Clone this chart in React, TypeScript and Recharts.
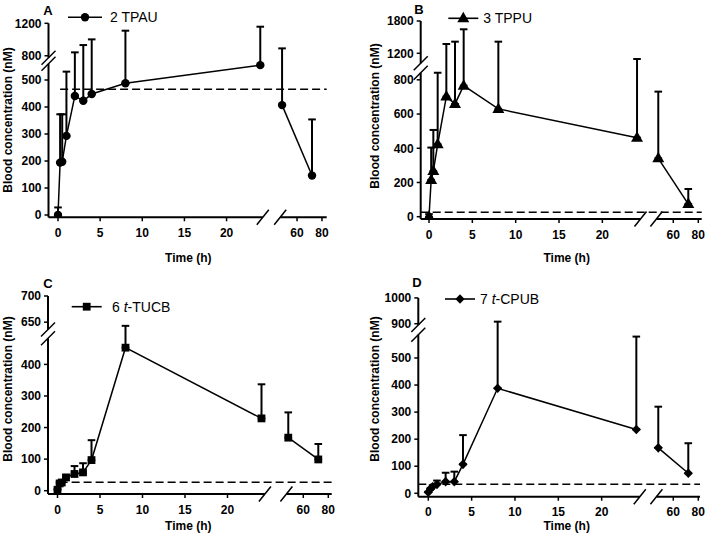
import React from 'react';
import { LineChart, Line, XAxis, YAxis, ErrorBar, ReferenceLine, Legend } from 'recharts';

const FONT = '"Liberation Sans", Arial, Helvetica, sans-serif';

// sampling times (h)
const times = [0, 0.25, 0.5, 1, 2, 3, 4, 8, 24, 48, 72];
const xTicks = [0, 5, 10, 15, 20, 60, 80];

// mean and mean + SD (nM)
const tpauMean = [0, 194, 197, 293, 441, 423, 448, 488, 555, 407, 146];
const tpauUpper = [28, 373, 373, 531, 842, 932, 1002, 1109, 1158, 891, 354];
const tppuMean = [0, 215, 267, 423, 702, 659, 766, 630, 462, 341, 74];
const tppuUpper = [15, 404, 507, 842, 1373, 1416, 1646, 1416, 1094, 731, 162];
const tucbMean = [3, 23, 26, 42, 53, 58, 97, 453, 229, 168, 99];
const tucbUpper = [5, 28, 32, 50, 78, 87, 160, 643, 337, 248, 148];
const cpubMean = [4, 16, 24, 33, 43, 43, 107, 388, 236, 168, 74];
const cpubUpper = [6, 20, 30, 47, 76, 80, 215, 908, 579, 320, 185];

// dashed reference levels (nM)
const thresholds = [466, 26, 27, 33];

const yTicksA = [0, 100, 200, 300, 400, 500, 800, 1200];
const yTicksB = [0, 200, 400, 600, 800, 1200, 1800];
const yTicksC = [0, 100, 200, 300, 400, 650, 700];
const yTicksD = [0, 100, 200, 300, 400, 500, 900, 1000];

type Node = [number, number];
type MarkerKind = 'circle' | 'triangle' | 'square' | 'diamond';

// piecewise linear map used for the broken axes
function piecewise(nodes: Node[]) {
  return (v: number) => {
    let i = 1;
    while (i < nodes.length - 1 && v > nodes[i][0]) i++;
    const [a, pa] = nodes[i - 1];
    const [b, pb] = nodes[i];
    return pa + ((v - a) * (pb - pa)) / (b - a);
  };
}

function Marker({ kind, cx, cy }: { kind: MarkerKind; cx: number; cy: number }) {
  if (kind === 'circle') return <circle cx={cx} cy={cy} r={4.2} fill="#000" />;
  if (kind === 'square') return <rect x={cx - 3.9} y={cy - 3.9} width={7.8} height={7.8} fill="#000" />;
  if (kind === 'triangle')
    return <polygon points={`${cx},${cy - 6.5} ${cx - 6},${cy + 4} ${cx + 6},${cy + 4}`} fill="#000" />;
  return <polygon points={`${cx},${cy - 4.8} ${cx + 4.6},${cy} ${cx},${cy + 4.8} ${cx - 4.6},${cy}`} fill="#000" />;
}

const makeDot = (kind: MarkerKind) => (props: any) => {
  const { cx, cy, index } = props;
  if (cx == null || cy == null) return <g key={index} />;
  return <Marker key={index} kind={kind} cx={cx} cy={cy} />;
};

interface PanelCfg {
  letter: string;
  name: React.ReactNode;
  marker: MarkerKind;
  mean: number[];
  upper: number[];
  threshold: number;
  yTicks: number[];
  box: { left: number; top: number; width: number; height: number };
  plot: { left: number; top: number; right: number; bottom: number };
  zero: { x: number; y: number };
  xNodes: Node[];
  yNodes: Node[];
  xBreak: [number, number];
  yBreak: [number, number];
  dashFrom?: number;
  letterPos: { x: number; y: number };
  legend: { x1: number; x2: number; y: number; textX: number };
  yTitle: { x: number; y: number };
  xTitle: { x: number; y: number };
}

const panels: PanelCfg[] = [
  {
    letter: 'A', name: '2 TPAU', marker: 'circle', mean: tpauMean, upper: tpauUpper,
    threshold: thresholds[0], yTicks: yTicksA,
    box: { left: 0, top: 0, width: 354, height: 270 },
    plot: { left: 48.5, top: 23.3, right: 326.7, bottom: 217.3 },
    zero: { x: 58, y: 215 },
    xNodes: [[0, 0], [24.3, 204.8], [46.5, 222.2], [80, 264]],
    yNodes: [[0, 0], [560, 151.2], [775, 157.2], [1200, 191.7]],
    xBreak: [24.3, 46.5], yBreak: [560, 775], dashFrom: 0.25,
    letterPos: { x: 48, y: 10 }, legend: { x1: 68, x2: 102, y: 17.3, textX: 110 },
    yTitle: { x: 8.3, y: 120 }, xTitle: { x: 188.3, y: 258.3 },
  },
  {
    letter: 'B', name: '3 TPPU', marker: 'triangle', mean: tppuMean, upper: tppuUpper,
    threshold: thresholds[1], yTicks: yTicksB,
    box: { left: 354, top: 0, width: 355, height: 270 },
    plot: { left: 420.7, top: 21, right: 701.7, bottom: 219 },
    zero: { x: 429, y: 216.7 },
    xNodes: [[0, 0], [24.4, 211.5], [46.5, 227.4], [80, 269.3]],
    yNodes: [[0, 0], [841, 143.9], [1014, 153.4], [1800, 195.7]],
    xBreak: [24.4, 46.5], yBreak: [841, 1014],
    letterPos: { x: 419, y: 9.5 }, legend: { x1: 448.3, x2: 478.3, y: 18.3, textX: 483.3 },
    yTitle: { x: 375, y: 116 }, xTitle: { x: 566.7, y: 258.3 },
  },
  {
    letter: 'C', name: <>6 <tspan fontStyle="italic">t</tspan>-TUCB</>, marker: 'square',
    mean: tucbMean, upper: tucbUpper, threshold: thresholds[2], yTicks: yTicksC,
    box: { left: 0, top: 270, width: 354, height: 269 },
    plot: { left: 48, top: 296, right: 331.7, bottom: 494 },
    zero: { x: 57.5, y: 490.7 },
    xNodes: [[0, 0], [24.4, 207.4], [46.5, 228.9], [80, 270.8]],
    yNodes: [[0, 0], [483, 152.5], [636, 161.2], [700, 194.7]],
    xBreak: [24.4, 46.5], yBreak: [483, 636], dashFrom: 0.25,
    letterPos: { x: 48, y: 283 }, legend: { x1: 71.7, x2: 101.7, y: 306.7, textX: 112 },
    yTitle: { x: 8.3, y: 389 }, xTitle: { x: 188.3, y: 526 },
  },
  {
    letter: 'D', name: <>7 <tspan fontStyle="italic">t</tspan>-CPUB</>, marker: 'diamond',
    mean: cpubMean, upper: cpubUpper, threshold: thresholds[3], yTicks: yTicksD,
    box: { left: 354, top: 270, width: 355, height: 269 },
    plot: { left: 418.3, top: 298, right: 700, bottom: 496.7 },
    zero: { x: 428.3, y: 493.3 },
    xNodes: [[0, 0], [24.4, 211.5], [46.5, 228.1], [80, 270]],
    yNodes: [[0, 0], [586, 158.6], [895, 168.3], [1000, 195.4]],
    xBreak: [24.4, 46.5], yBreak: [586, 895],
    letterPos: { x: 417, y: 282.7 }, legend: { x1: 445, x2: 475, y: 299, textX: 480 },
    yTitle: { x: 375, y: 389 }, xTitle: { x: 566.7, y: 526 },
  },
];

const tickStyle = { fontFamily: FONT, fontSize: 12, fontWeight: 700, fill: '#000' };

function Panel({ p }: { p: PanelCfg }) {
  const fx = piecewise(p.xNodes);
  const fy = piecewise(p.yNodes);
  const bx = p.box.left;
  const by = p.box.top;
  const xDom: [number, number] = [p.plot.left - p.zero.x, p.plot.right - p.zero.x];
  const yDom: [number, number] = [p.zero.y - p.plot.bottom, p.zero.y - p.plot.top];

  const rows = times.map((t, i) => ({
    x: fx(t),
    y: fy(p.mean[i]),
    err: [0, fy(p.upper[i]) - fy(p.mean[i])],
  }));
  const early = rows.filter((_, i) => times[i] <= 24);
  const late = rows.filter((_, i) => times[i] >= 48);

  const xLabel = (v: number) => {
    const t = xTicks.find((k) => Math.abs(fx(k) - v) < 0.01);
    return t == null ? '' : String(t);
  };
  const yLabel = (v: number) => {
    const t = p.yTicks.find((k) => Math.abs(fy(k) - v) < 0.01);
    return t == null ? '' : String(t);
  };

  const ax = xDom[0];
  const ay = yDom[0];
  const axisSegs = [
    [{ x: ax, y: ay }, { x: ax, y: fy(p.yBreak[0]) }],
    [{ x: ax, y: fy(p.yBreak[1]) }, { x: ax, y: yDom[1] }],
    [{ x: ax, y: ay }, { x: fx(p.xBreak[0]), y: ay }],
    [{ x: fx(p.xBreak[1]), y: ay }, { x: xDom[1], y: ay }],
  ];
  const breakMarks = [
    ...p.yBreak.map((b) => [{ x: ax - 7, y: fy(b) - 7 }, { x: ax + 7, y: fy(b) + 7 }]),
    ...p.xBreak.map((b) => [{ x: fx(b) - 6, y: ay - 7.5 }, { x: fx(b) + 6, y: ay + 7.5 }]),
  ];
  const dashStart = p.dashFrom == null ? xDom[0] : fx(p.dashFrom);

  const lg = p.legend;
  const legendContent = () => (
    <svg width={p.box.width} height={50} style={{ display: 'block', overflow: 'visible' }}>
      <text x={p.letterPos.x - bx} y={p.letterPos.y - by} textAnchor="middle" dominantBaseline="central"
        fontFamily={FONT} fontSize={13} fontWeight={700} fill="#000">{p.letter}</text>
      <line x1={lg.x1 - bx} x2={lg.x2 - bx} y1={lg.y - by} y2={lg.y - by} stroke="#000" strokeWidth={1.6} />
      <Marker kind={p.marker} cx={(lg.x1 + lg.x2) / 2 - bx} cy={lg.y - by} />
      <text x={lg.textX - bx} y={lg.y - by} dominantBaseline="central" fontFamily={FONT} fontSize={14} fill="#000">
        {p.name}
      </text>
    </svg>
  );

  return (
    <div style={{ position: 'absolute', left: bx, top: by, width: p.box.width, height: p.box.height }}>
      <LineChart
        width={p.box.width}
        height={p.box.height}
        margin={{ top: p.plot.top - by, right: bx + p.box.width - p.plot.right, bottom: 0, left: 0 }}
      >
        <XAxis
          type="number"
          dataKey="x"
          domain={xDom}
          allowDataOverflow
          ticks={xTicks.map(fx)}
          interval={0}
          tickFormatter={xLabel}
          axisLine={false}
          tickLine={{ stroke: '#000', strokeWidth: 1.5 }}
          tickSize={4}
          tickMargin={7}
          tick={tickStyle}
          height={by + p.box.height - p.plot.bottom}
          label={{
            value: 'Time (h)',
            content: () => (
              <text x={p.xTitle.x - bx} y={p.xTitle.y - by} textAnchor="middle" dominantBaseline="central"
                fontFamily={FONT} fontSize={12} fontWeight={700} fill="#000">Time (h)</text>
            ),
          }}
        />
        <YAxis
          type="number"
          domain={yDom}
          allowDataOverflow
          ticks={p.yTicks.map(fy)}
          interval={0}
          tickFormatter={yLabel}
          axisLine={false}
          tickLine={{ stroke: '#000', strokeWidth: 1.5 }}
          tickSize={4}
          tickMargin={3}
          tick={tickStyle}
          width={p.plot.left - bx}
          label={{
            value: 'Blood concentration (nM)',
            content: () => {
              const x = p.yTitle.x - bx;
              const y = p.yTitle.y - by;
              return (
                <text x={x} y={y} transform={`rotate(-90, ${x}, ${y})`} textAnchor="middle"
                  dominantBaseline="central" fontFamily={FONT} fontSize={12} fontWeight={700} fill="#000">
                  Blood concentration (nM)
                </text>
              );
            },
          }}
        />
        {axisSegs.map((s, i) => (
          <ReferenceLine key={`ax${i}`} segment={s} stroke="#000" strokeWidth={2} ifOverflow="visible" />
        ))}
        {breakMarks.map((s, i) => (
          <ReferenceLine key={`br${i}`} segment={s} stroke="#000" strokeWidth={1.5} ifOverflow="visible" />
        ))}
        <ReferenceLine
          segment={[{ x: dashStart, y: fy(p.threshold) }, { x: xDom[1], y: fy(p.threshold) }]}
          stroke="#000"
          strokeWidth={1.5}
          strokeDasharray="8 4"
          ifOverflow="visible"
        />
        <Line data={early} dataKey="y" stroke="#000" strokeWidth={1.5} dot={makeDot(p.marker)}
          activeDot={false} isAnimationActive={false} legendType="none">
          <ErrorBar dataKey="err" direction="y" width={3.8} stroke="#000" strokeWidth={2} />
        </Line>
        <Line data={late} dataKey="y" stroke="#000" strokeWidth={1.5} dot={makeDot(p.marker)}
          activeDot={false} isAnimationActive={false} legendType="none">
          <ErrorBar dataKey="err" direction="y" width={3.8} stroke="#000" strokeWidth={2} />
        </Line>
        <Legend
          layout="vertical"
          verticalAlign="middle"
          align="center"
          wrapperStyle={{ top: 0, left: 0, width: p.box.width, height: 50 }}
          content={legendContent}
        />
      </LineChart>
    </div>
  );
}

export default function App() {
  return (
    <div style={{ position: 'absolute', left: 0, top: 0, width: 709, height: 539, background: '#fff' }}>
      {panels.map((p) => (
        <Panel key={p.letter} p={p} />
      ))}
    </div>
  );
}
